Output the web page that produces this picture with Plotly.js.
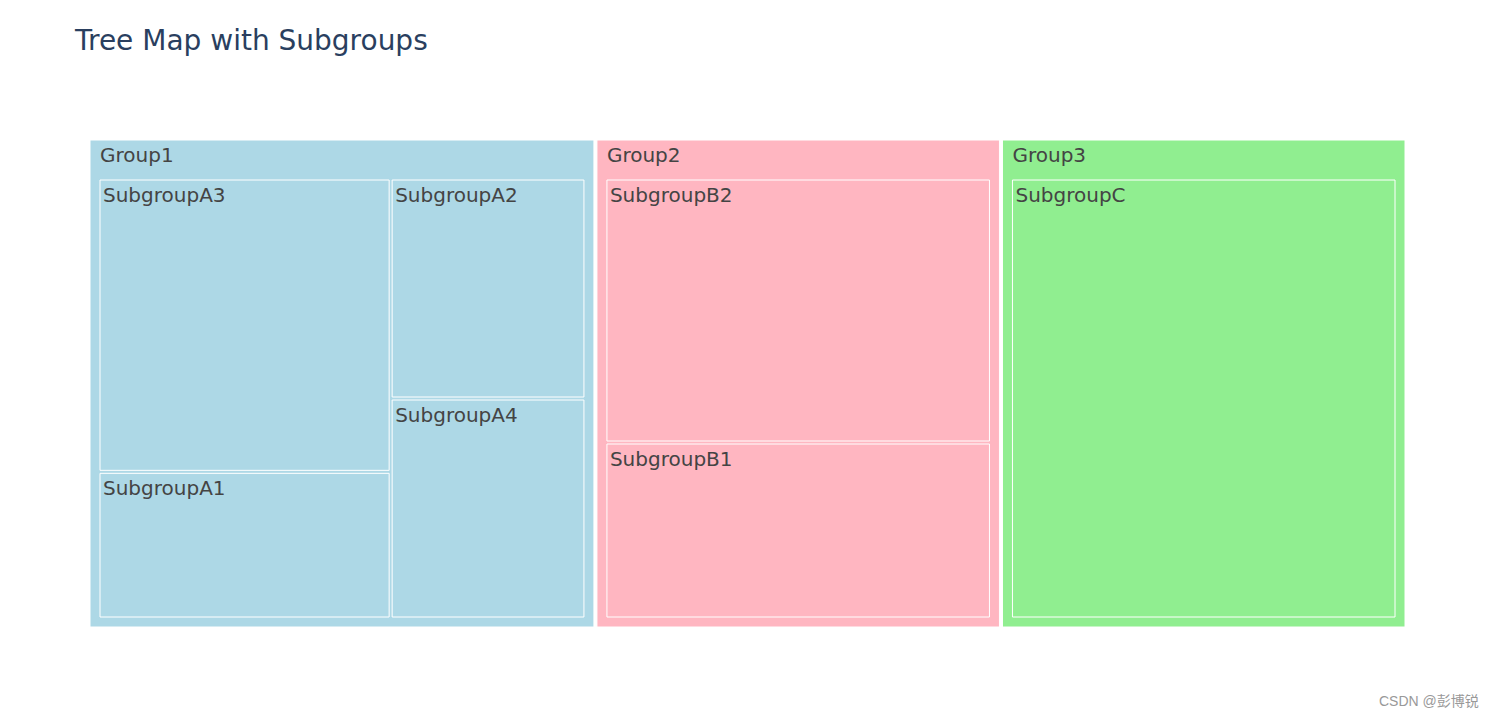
<!DOCTYPE html>
<html>
<head>
<meta charset="utf-8">
<script src="https://cdn.plot.ly/plotly-3.0.1.min.js"></script>
<style>html,body{margin:0;padding:0;background:#fff;}#chart{width:1496px;height:718px;}</style>
</head>
<body>
<div id="chart"></div>
<script>
// Data
const ids = ["Group1", "Group2", "Group3",
             "Group1/SubgroupA1", "Group1/SubgroupA2", "Group1/SubgroupA3", "Group1/SubgroupA4",
             "Group2/SubgroupB1", "Group2/SubgroupB2",
             "Group3/SubgroupC"];
const labels = ["Group1", "Group2", "Group3",
                "SubgroupA1", "SubgroupA2", "SubgroupA3", "SubgroupA4",
                "SubgroupB1", "SubgroupB2",
                "SubgroupC"];
const parents = ["", "", "",
                 "Group1", "Group1", "Group1", "Group1",
                 "Group2", "Group2",
                 "Group3"];
const values = [0, 0, 0,
                5, 5, 10, 5,
                8, 12,
                20];
const groupColors = {Group1: "lightblue", Group2: "lightpink", Group3: "lightgreen"};
const nodeColors = ids.map(id => groupColors[id.split("/")[0]]);

const trace = {
  type: "treemap",
  ids: ids,
  labels: labels,
  parents: parents,
  values: values,
  branchvalues: "remainder",
  sort: true,
  marker: {colors: nodeColors, line: {color: "white", width: 1}},
  textinfo: "label",
  textfont: {family: "DejaVu Sans", size: 20, color: "#444"},
  pathbar: {visible: false},
  tiling: {pad: 3},
  hoverinfo: "label+value"
};

const layout = {
  width: 1496,
  height: 718,
  margin: {l: 80, r: 81, t: 100, b: 81},
  paper_bgcolor: "white",
  font: {family: "DejaVu Sans", color: "#444"},
  title: {
    text: "Tree Map with Subgroups",
    font: {family: "DejaVu Sans", size: 28, color: "#2a3f5f"},
    x: 75 / 1496,
    xanchor: "left",
    xref: "container",
    y: 1 - 40 / 718,
    yanchor: "middle",
    yref: "container"
  },
  annotations: [{
    text: "CSDN @彭博锐",
    xref: "paper", yref: "paper",
    x: (1481 - 80) / 1335, y: (637 - 701) / 537,
    xanchor: "right", yanchor: "middle",
    showarrow: false,
    font: {family: "Liberation Sans, Noto Sans CJK SC", size: 14, color: "#999"}
  }]
};

Plotly.newPlot("chart", [trace], layout, {displayModeBar: false});
</script>
</body>
</html>
